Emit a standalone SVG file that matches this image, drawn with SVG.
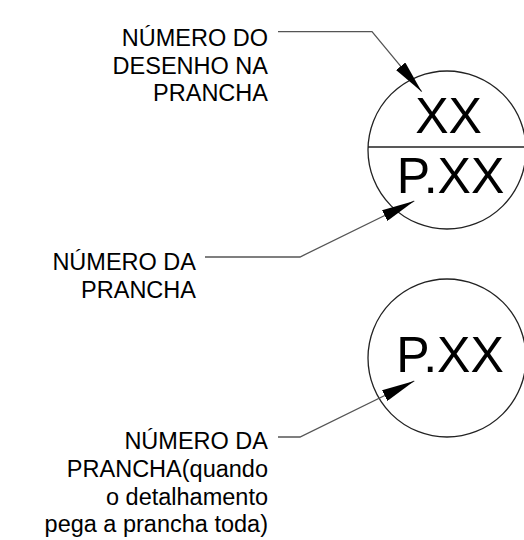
<svg xmlns="http://www.w3.org/2000/svg" width="524" height="540" viewBox="0 0 524 540">
<style>
.lbl{font-family:"Liberation Sans",Arial,sans-serif;font-size:23.5px;fill:#000;text-anchor:end}
.big{font-family:"Liberation Sans",Arial,sans-serif;font-size:50px;fill:#000;text-anchor:middle}
.ring{fill:none;stroke:#222;stroke-width:1.3}
.lead{fill:none;stroke:#555;stroke-width:1.3}
</style>
<defs>
<marker id="arr" viewBox="0 -6 33 12" refX="33" refY="0" markerWidth="33" markerHeight="12" markerUnits="userSpaceOnUse" orient="auto">
<path d="M0,-6 L33,0 L0,6 Z" fill="#000"/>
</marker>
</defs>
<rect width="524" height="540" fill="#fff"/>
<g id="symbol-top">
<circle class="ring" cx="447" cy="150" r="79"/>
<line class="ring" x1="368" y1="147" x2="524" y2="147"/>
<text class="big" x="448.5" y="133">XX</text>
<text class="big" x="450.5" y="193">P.XX</text>
</g>
<g id="symbol-bottom">
<circle class="ring" cx="447" cy="358" r="79"/>
<text class="big" x="450" y="372">P.XX</text>
</g>
<g id="label-desenho">
<text class="lbl" x="268" y="46">NÚMERO DO</text>
<text class="lbl" x="268" y="74">DESENHO NA</text>
<text class="lbl" x="268" y="101">PRANCHA</text>
</g>
<g id="label-prancha">
<text class="lbl" x="196" y="270">NÚMERO DA</text>
<text class="lbl" x="196" y="298">PRANCHA</text>
</g>
<g id="label-prancha-toda">
<text class="lbl" x="268" y="449">NÚMERO DA</text>
<text class="lbl" x="268" y="477">PRANCHA(quando</text>
<text class="lbl" x="268" y="505">o detalhamento</text>
<text class="lbl" x="268" y="532">pega a prancha toda)</text>
</g>
<g id="connectors">
<polyline class="lead" points="278,31.7 372,31.7 421.7,91.7" marker-end="url(#arr)"/>
<polyline class="lead" points="205,257 300,257 414.3,201" marker-end="url(#arr)"/>
<polyline class="lead" points="278,437 300,437 414.3,381" marker-end="url(#arr)"/>
</g>
</svg>
